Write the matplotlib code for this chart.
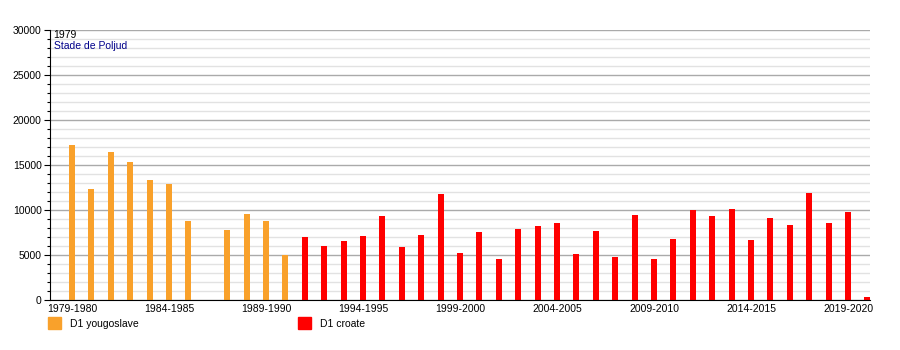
import matplotlib
matplotlib.use("Agg")
import matplotlib.pyplot as plt
from matplotlib.patches import Rectangle
from matplotlib.ticker import MultipleLocator
import numpy as np

plt.rcParams['font.family'] = ['Liberation Sans', 'DejaVu Sans']

# seasons 1979-1980 .. 2020-2021 (index 0 = 1979-1980)
yougo_idx = [0, 1, 2, 3, 4, 5, 6, 8, 9, 10, 11]
yougo_vals = [17200, 12300, 16450, 15350, 13350, 12900, 8780,
              7780, 9560, 8780, 5000]

croate_idx = list(range(12, 42))
croate_vals = [7000, 6000, 6560, 7110, 9330, 5890, 7220, 11780, 5220, 7560,
               4560, 7890, 8220, 8560, 5110, 7670, 4780, 9440, 4560, 6780,
               10000, 9330, 10110, 6670, 9110, 8330, 11890, 8560, 9780, 330]

label_idx = [0, 5, 10, 15, 20, 25, 30, 35, 40]
label_txt = ["1979-1980", "1984-1985", "1989-1990", "1994-1995", "1999-2000",
             "2004-2005", "2009-2010", "2014-2015", "2019-2020"]

ORANGE = "#F9A12B"
RED = "#FF0000"

fig = plt.figure(figsize=(9, 3.5), dpi=100)
ax = fig.add_axes([50 / 900, 1 - 300 / 350, 820 / 900, 270 / 350])

ax.bar(yougo_idx, yougo_vals, width=0.31, color=ORANGE, zorder=3)
ax.bar(croate_idx, croate_vals, width=0.31, color=RED, zorder=3)

ax.set_xlim(-1.13, 41.13)
ax.set_ylim(0, 30000)

ax.yaxis.set_major_locator(MultipleLocator(5000))
ax.yaxis.set_minor_locator(MultipleLocator(1000))
ax.grid(axis='y', which='minor', color='#e2e2e2', lw=1, zorder=0)
ax.grid(axis='y', which='major', color='#aaaaaa', lw=1, zorder=1)

ax.set_xticks(label_idx)
ax.set_xticklabels(label_txt)
ax.tick_params(axis='x', length=0, pad=3, labelsize=7.5)
ax.tick_params(axis='y', which='major', length=4, width=0.8, labelsize=7.5, pad=2)
ax.tick_params(axis='y', which='minor', length=2.5, width=0.8)

for s in ['top', 'right']:
    ax.spines[s].set_visible(False)
ax.spines['left'].set_color('black')
ax.spines['bottom'].set_color('black')
ax.spines['left'].set_zorder(4)
ax.spines['bottom'].set_zorder(4)

ax.text(0.004, 1.0, "1979", transform=ax.transAxes, ha='left', va='top',
        fontsize=7.5, color='black')
ax.text(0.005, 0.958, "Stade de Poljud", transform=ax.transAxes, ha='left',
        va='top', fontsize=7.5, color='#00008B')

# legend below the axes
for x0, color, label in [(48, ORANGE, "D1 yougoslave"), (298, RED, "D1 croate")]:
    fig.add_artist(Rectangle((x0 / 900, 1 - 329 / 350), 13 / 900, 12 / 350,
                             transform=fig.transFigure, color=color))
    fig.text((x0 + 22) / 900, 1 - 324 / 350, label, ha='left', va='center',
             fontsize=7.5)

fig.savefig("out.png", dpi=100)
